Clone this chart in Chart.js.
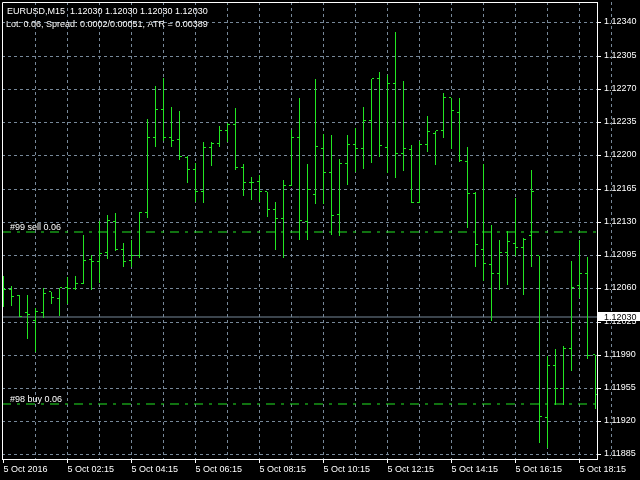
<!DOCTYPE html>
<html>
<head>
<meta charset="utf-8">
<script src="https://cdn.jsdelivr.net/npm/chart.js@4.4.0/dist/chart.umd.min.js"></script>
<style>
  html, body { margin: 0; padding: 0; background: #000; }
  canvas { display: block; }
</style>
</head>
<body>
<canvas id="chart" width="640" height="480"></canvas>
<script>
// EURUSD M15, 5 Oct 2016, one entry per bar (left to right)
const symbol = 'EURUSD,M15';
const lastQuote = [1.12030, 1.12030, 1.12030, 1.12030];
const infoLine = 'Lot: 0.06, Spread: 0.0002/0.00051, ATR = 0.00389';

const opens = [
  1.12062, 1.12058, 1.12052, 1.12034, 1.12026, 1.12034, 1.12056, 1.12049, 1.12060, 1.12059,
  1.12065, 1.12090, 1.12088, 1.12097, 1.12130, 1.12100, 1.12089, 1.12094, 1.12139, 1.12218,
  1.12248, 1.12218, 1.12216, 1.12197, 1.12185, 1.12161, 1.12208, 1.12212, 1.12226, 1.12232,
  1.12187, 1.12171, 1.12172, 1.12161, 1.12143, 1.12133, 1.12168, 1.12218, 1.12130, 1.12158,
  1.12207, 1.12181, 1.12137, 1.12191, 1.12211, 1.12207, 1.12236, 1.12281, 1.12208, 1.12275,
  1.12202, 1.12206, 1.12150, 1.12211, 1.12223, 1.12226, 1.12260, 1.12245, 1.12193, 1.12159,
  1.12100, 1.12085, 1.12075, 1.12097, 1.12107, 1.12102, 1.12115, 1.12094, 1.11923, 1.11978,
  1.11954, 1.11996, 1.12062, 1.12075, 1.11990
];
const highs = [
  1.12073, 1.12062, 1.12053, 1.12053, 1.12039, 1.12060, 1.12056, 1.12060, 1.12072, 1.12073,
  1.12116, 1.12095, 1.12131, 1.12137, 1.12139, 1.12108, 1.12111, 1.12140, 1.12238, 1.12273,
  1.12282, 1.12251, 1.12247, 1.12199, 1.12192, 1.12214, 1.12214, 1.12231, 1.12234, 1.12250,
  1.12191, 1.12177, 1.12179, 1.12161, 1.12151, 1.12174, 1.12227, 1.12261, 1.12191, 1.12281,
  1.12223, 1.12221, 1.12196, 1.12221, 1.12229, 1.12251, 1.12281, 1.12288, 1.12285, 1.12330,
  1.12278, 1.12211, 1.12215, 1.12242, 1.12226, 1.12266, 1.12261, 1.12261, 1.12209, 1.12162,
  1.12191, 1.12127, 1.12111, 1.12120, 1.12155, 1.12113, 1.12185, 1.12094, 1.11989, 1.11996,
  1.11999, 1.12089, 1.12111, 1.12093, 1.11990
];
const lows = [
  1.12040, 1.12041, 1.12030, 1.12007, 1.11993, 1.12029, 1.12044, 1.12031, 1.12044, 1.12058,
  1.12065, 1.12058, 1.12066, 1.12091, 1.12099, 1.12083, 1.12082, 1.12092, 1.12134, 1.12209,
  1.12215, 1.12209, 1.12195, 1.12171, 1.12151, 1.12150, 1.12189, 1.12209, 1.12214, 1.12185,
  1.12157, 1.12153, 1.12151, 1.12135, 1.12100, 1.12092, 1.12168, 1.12111, 1.12111, 1.12149,
  1.12149, 1.12116, 1.12115, 1.12169, 1.12183, 1.12186, 1.12192, 1.12198, 1.12182, 1.12176,
  1.12184, 1.12150, 1.12150, 1.12204, 1.12190, 1.12218, 1.12207, 1.12193, 1.12124, 1.12082,
  1.12068, 1.12026, 1.12058, 1.12064, 1.12094, 1.12053, 1.12083, 1.11897, 1.11892, 1.11937,
  1.11937, 1.11973, 1.12050, 1.11986, 1.11933
];
const closes = [
  1.12058, 1.12051, 1.12030, 1.12032, 1.12035, 1.12054, 1.12050, 1.12060, 1.12059, 1.12065,
  1.12089, 1.12088, 1.12096, 1.12131, 1.12100, 1.12088, 1.12094, 1.12139, 1.12218, 1.12248,
  1.12218, 1.12215, 1.12198, 1.12185, 1.12161, 1.12208, 1.12212, 1.12226, 1.12232, 1.12187,
  1.12171, 1.12171, 1.12162, 1.12143, 1.12133, 1.12168, 1.12218, 1.12131, 1.12164, 1.12209,
  1.12182, 1.12136, 1.12191, 1.12211, 1.12207, 1.12236, 1.12281, 1.12210, 1.12275, 1.12201,
  1.12207, 1.12150, 1.12211, 1.12225, 1.12226, 1.12261, 1.12247, 1.12194, 1.12159, 1.12106,
  1.12086, 1.12075, 1.12097, 1.12109, 1.12102, 1.12111, 1.12161, 1.11924, 1.11978, 1.11954,
  1.11996, 1.12060, 1.12075, 1.11989, 1.11948
];

// one time label every 8 bars
const xLabels = ['5 Oct 2016', '5 Oct 02:15', '5 Oct 04:15', '5 Oct 06:15', '5 Oct 08:15',
  '5 Oct 10:15', '5 Oct 12:15', '5 Oct 14:15', '5 Oct 16:15', '5 Oct 18:15'];
const yTicks = [1.11885, 1.11920, 1.11955, 1.11990, 1.12025, 1.12060, 1.12095,
  1.12130, 1.12165, 1.12200, 1.12235, 1.12270, 1.12305, 1.12340];

const sellOrder = { label: '#99 sell 0.06', price: 1.12119 };
const buyOrder = { label: '#98 buy 0.06', price: 1.11938 };
const bidPrice = 1.12030;

const xMin = -0.1875, xMax = 74.1875;
const yMin = 1.1188026, yMax = 1.1236159;

const green = '#22e622';
const gridColor = '#778899';
const font = { family: 'Liberation Sans', size: 9 };

const idx = opens.map((_, i) => i);
const flatLine = price => [{ x: xMin, y: price }, { x: xMax, y: price }];

const tickSet = {
  type: 'bar', categoryPercentage: 0.5625, barPercentage: 4 / 3,
  minBarLength: 1, inflateAmount: 0, backgroundColor: green, borderWidth: 0, clip: 0
};

const overlay = {
  id: 'overlay',
  afterDraw(chart) {
    const { ctx, chartArea: a, scales: { y } } = chart;
    ctx.save();
    // left and top edge of the frame
    ctx.strokeStyle = '#fff';
    ctx.lineWidth = 1;
    ctx.beginPath();
    ctx.moveTo(a.left + 0.5, a.bottom);
    ctx.lineTo(a.left + 0.5, a.top + 0.5);
    ctx.lineTo(a.right, a.top + 0.5);
    ctx.stroke();

    ctx.font = '9px "Liberation Sans"';
    ctx.fillStyle = '#fff';
    ctx.textBaseline = 'alphabetic';
    ctx.fillText(symbol + '  ' + lastQuote.map(v => v.toFixed(5)).join(' '), 7, 14);
    ctx.fillText(infoLine, 6, 27);

    [sellOrder, buyOrder].forEach(o => {
      ctx.fillText(o.label, 10, Math.round(y.getPixelForValue(o.price)) - 2);
    });

    // bid price box on the price axis
    const py = Math.round(y.getPixelForValue(bidPrice));
    ctx.fillStyle = '#fff';
    ctx.fillRect(a.right + 1, py - 5, chart.width - a.right - 1, 9);
    ctx.fillStyle = '#000';
    ctx.fillText(bidPrice.toFixed(5), 604, py + 3);
    ctx.restore();
  }
};

new Chart(document.getElementById('chart'), {
  type: 'bar',
  data: {
    datasets: [
      { ...tickSet, label: 'open', data: idx.map(i => ({ x: i, y: [opens[i], opens[i]] })) },
      { type: 'bar', label: 'range', data: idx.map(i => ({ x: i, y: [lows[i], highs[i]] })),
        categoryPercentage: 0.5625, maxBarThickness: 1, inflateAmount: 0,
        backgroundColor: green, borderWidth: 0, clip: 0 },
      { ...tickSet, label: 'close', data: idx.map(i => ({ x: i, y: [closes[i], closes[i]] })) },
      { type: 'line', label: 'sell', data: flatLine(sellOrder.price), order: 1,
        borderColor: green, borderWidth: 1, borderDash: [9, 6, 3, 6], pointRadius: 0 },
      { type: 'line', label: 'buy', data: flatLine(buyOrder.price), order: 1,
        borderColor: green, borderWidth: 1, borderDash: [9, 6, 3, 6], pointRadius: 0 },
      { type: 'line', label: 'bid', data: flatLine(bidPrice), order: 1,
        borderColor: gridColor, borderWidth: 1, pointRadius: 0 }
    ]
  },
  options: {
    responsive: false,
    animation: false,
    layout: { padding: { left: 2, top: 2, right: 0, bottom: 0 } },
    plugins: { legend: { display: false }, tooltip: { enabled: false } },
    scales: {
      x: {
        type: 'linear', min: xMin, max: xMax, offset: false,
        afterBuildTicks: s => { s.ticks = xLabels.flatMap((_, i) => [i * 8, i * 8 + 4]).map(v => ({ value: v })); },
        afterFit: s => { s.height = 21; s.paddingLeft = 0; s.paddingRight = 0; },
        ticks: {
          autoSkip: false, maxRotation: 0, align: 'start', color: '#fff', font, padding: 1,
          callback: v => (v % 8 === 0 ? xLabels[v / 8] : '')
        },
        grid: {
          offset: false,
          color: c => (c.tick && c.tick.value === 0 ? 'rgba(0,0,0,0)' : gridColor),
          tickColor: c => (c.tick && c.tick.value % 8 === 0 ? '#fff' : 'rgba(0,0,0,0)'),
          tickLength: 4, lineWidth: 1
        },
        border: { color: '#fff', width: 1, dash: [3, 3] }
      },
      y: {
        type: 'linear', position: 'right', min: yMin, max: yMax, alignToPixels: true,
        afterBuildTicks: s => { s.ticks = yTicks.map(v => ({ value: v })); },
        afterFit: s => { s.width = 43; s.paddingTop = 0; s.paddingBottom = 0; },
        ticks: { color: '#fff', font, padding: 3, callback: v => v.toFixed(5) },
        grid: { color: gridColor, tickColor: '#fff', tickLength: 4, lineWidth: 1 },
        border: { color: '#fff', width: 1, dash: [3, 3] }
      }
    }
  },
  plugins: [overlay]
});
</script>
</body>
</html>
